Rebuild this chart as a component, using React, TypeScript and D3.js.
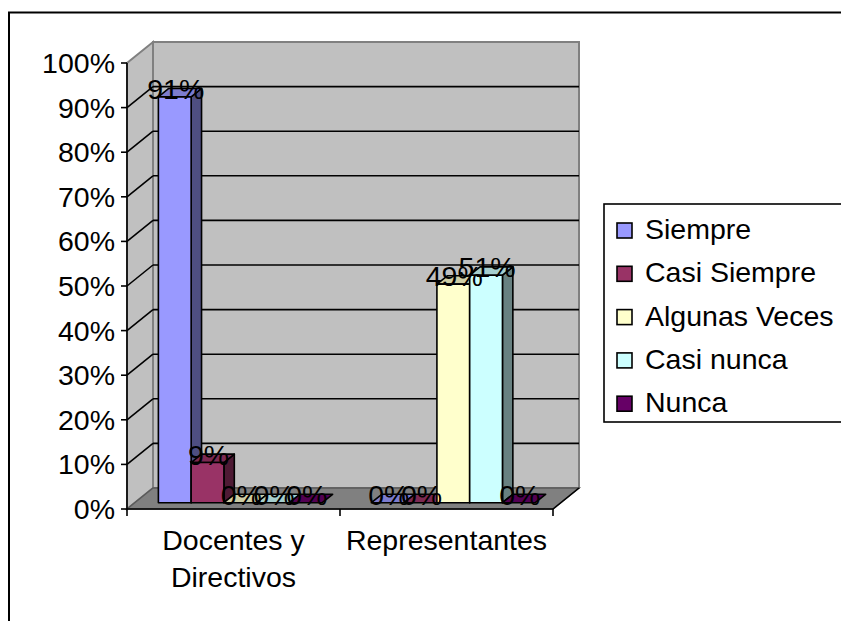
import React from "react";
import * as d3 from "d3";

const categories = ["Docentes y Directivos", "Representantes"];
const categoryLines = [["Docentes y", "Directivos"], ["Representantes"]];
const seriesNames = ["Siempre", "Casi Siempre", "Algunas Veces", "Casi nunca", "Nunca"];
const siempre = [91, 0];
const casiSiempre = [9, 0];
const algunasVeces = [0, 49];
const casiNunca = [0, 51];
const nunca = [0, 0];
const seriesValues = [siempre, casiSiempre, algunasVeces, casiNunca, nunca];
const seriesColors = ["#9999FF", "#993366", "#FFFFCC", "#CCFFFF", "#660066"];
const yTicks = [0, 10, 20, 30, 40, 50, 60, 70, 80, 90, 100];

const FONT = "'Liberation Sans', Arial, sans-serif";
const FS = 28.5;

export default function App() {
  const x0 = 127, x1 = 553, yBot = 509, yTop = 63;
  const DX = 26, DY = 21;
  const P = (x: number, y: number, d: number): [number, number] => [x + d * DX, y - d * DY];
  const poly = (pts: [number, number][]) => pts.map((p) => p.join(",")).join(" ");

  const xCat = d3.scaleBand<string>().domain(categories).range([x0, x1]).paddingInner(0).paddingOuter(0);
  const xSer = d3.scaleBand<string>().domain(seriesNames).range([0, xCat.bandwidth()]).paddingInner(0).paddingOuter(0.75);
  const y = d3.scaleLinear().domain([0, 100]).range([yBot, yTop]);

  const dF = 0.3, dB = 0.7;

  const bars: JSX.Element[] = [];
  const labels: JSX.Element[] = [];
  categories.forEach((c, ci) => {
    seriesNames.forEach((s, si) => {
      const v = seriesValues[si][ci];
      const bx0 = (xCat(c) as number) + (xSer(s) as number) - 1;
      const bx1 = bx0 + xSer.bandwidth();
      const col = d3.color(seriesColors[si]) as d3.RGBColor;
      const top = col.darker(0.6).toString();
      const side = col.darker(1.9).toString();
      const yv = y(v), y0 = y(0);
      const fA = P(bx0, y0, dF), fB = P(bx1, y0, dF), fC = P(bx1, yv, dF), fD = P(bx0, yv, dF);
      const bC = P(bx1, yv, dB), bD = P(bx0, yv, dB), bB = P(bx1, y0, dB);
      bars.push(
        <g key={`b${ci}-${si}`} stroke="#000" strokeWidth={1.6} strokeLinejoin="round">
          {v > 0 && <polygon points={poly([fB, bB, bC, fC])} fill={side} />}
          <polygon points={poly([fD, fC, bC, bD])} fill={top} />
          {v > 0 && <polygon points={poly([fA, fB, fC, fD])} fill={seriesColors[si]} />}
        </g>
      );
      labels.push(
        <text key={`l${ci}-${si}`} x={(fD[0] + fC[0]) / 2 + 1} y={fD[1] + 2} textAnchor="middle"
          fontFamily={FONT} fontSize={FS} fill="#000">{`${v}%`}</text>
      );
    });
  });

  const [bl0x, bl0y] = P(x0, yBot, 1);
  const [bltx, blty] = P(x0, yTop, 1);
  const [br0x] = P(x1, yBot, 1);

  const legendY0 = 239, legendStep = 43.3;

  return (
    <svg width={841} height={621} style={{ position: "absolute", left: 0, top: 0, background: "#fff" }}>
      <rect x={9} y={12.5} width={900} height={700} fill="#fff" stroke="#000" strokeWidth={2} />
      {/* side wall */}
      <polygon points={poly([[x0, yTop], [bltx, blty], [bl0x, bl0y], [x0, yBot]])} fill="#C0C0C0" stroke="#808080" strokeWidth={2} />
      {/* back wall */}
      <rect x={bltx} y={blty} width={br0x - bl0x} height={bl0y - blty} fill="#C0C0C0" stroke="#808080" strokeWidth={2} />
      {/* gridlines */}
      {yTicks.filter((t) => t > 0 && t < 100).map((t) => {
        const [ax, ay] = P(x0, y(t), 1);
        const [bx] = P(x1, y(t), 1);
        return (
          <g key={`g${t}`} stroke="#000" strokeWidth={1.6}>
            <line x1={x0} y1={y(t)} x2={ax} y2={ay} />
            <line x1={ax} y1={ay} x2={bx} y2={ay} />
          </g>
        );
      })}
      {/* floor */}
      <polygon points={poly([[x0, yBot], [x1, yBot], P(x1, yBot, 1), P(x0, yBot, 1)])} fill="#808080" stroke="#5a5a5a" strokeWidth={1.5} />
      <line x1={x1} y1={yBot} x2={P(x1, yBot, 1)[0]} y2={P(x1, yBot, 1)[1]} stroke="#000" strokeWidth={1.6} />
      {bars}
      {/* axes */}
      <line x1={x0} y1={yTop} x2={x0} y2={yBot} stroke="#000" strokeWidth={1.6} />
      <line x1={x0} y1={yBot} x2={x1} y2={yBot} stroke="#000" strokeWidth={1.6} />
      {yTicks.map((t) => (
        <g key={`yt${t}`}>
          <line x1={x0 - 6} y1={y(t)} x2={x0} y2={y(t)} stroke="#000" strokeWidth={1.6} />
          <text x={115} y={y(t) + 10} textAnchor="end" fontFamily={FONT} fontSize={FS} fill="#000">{`${t}%`}</text>
        </g>
      ))}
      {[x0, ...categories.map((c) => (xCat(c) as number) + xCat.bandwidth())].map((tx, i) => (
        <line key={`xt${i}`} x1={tx} y1={yBot} x2={tx} y2={yBot + 7} stroke="#000" strokeWidth={1.6} />
      ))}
      {categories.map((c, ci) => (
        <text key={`c${ci}`} x={(xCat(c) as number) + xCat.bandwidth() / 2} y={550} textAnchor="middle"
          fontFamily={FONT} fontSize={FS} fill="#000">
          {categoryLines[ci].map((ln, li) => (
            <tspan key={li} x={(xCat(c) as number) + xCat.bandwidth() / 2} dy={li === 0 ? 0 : 37}>{ln}</tspan>
          ))}
        </text>
      ))}
      {labels}
      {/* legend */}
      <rect x={604} y={204} width={300} height={218} fill="#fff" stroke="#000" strokeWidth={1.6} />
      {seriesNames.map((s, i) => (
        <g key={`lg${i}`}>
          <rect x={617} y={legendY0 + i * legendStep - 16} width={15} height={15} fill={seriesColors[i]} stroke="#000" strokeWidth={1.6} />
          <text x={645} y={legendY0 + i * legendStep} fontFamily={FONT} fontSize={FS} fill="#000">{s}</text>
        </g>
      ))}
    </svg>
  );
}
